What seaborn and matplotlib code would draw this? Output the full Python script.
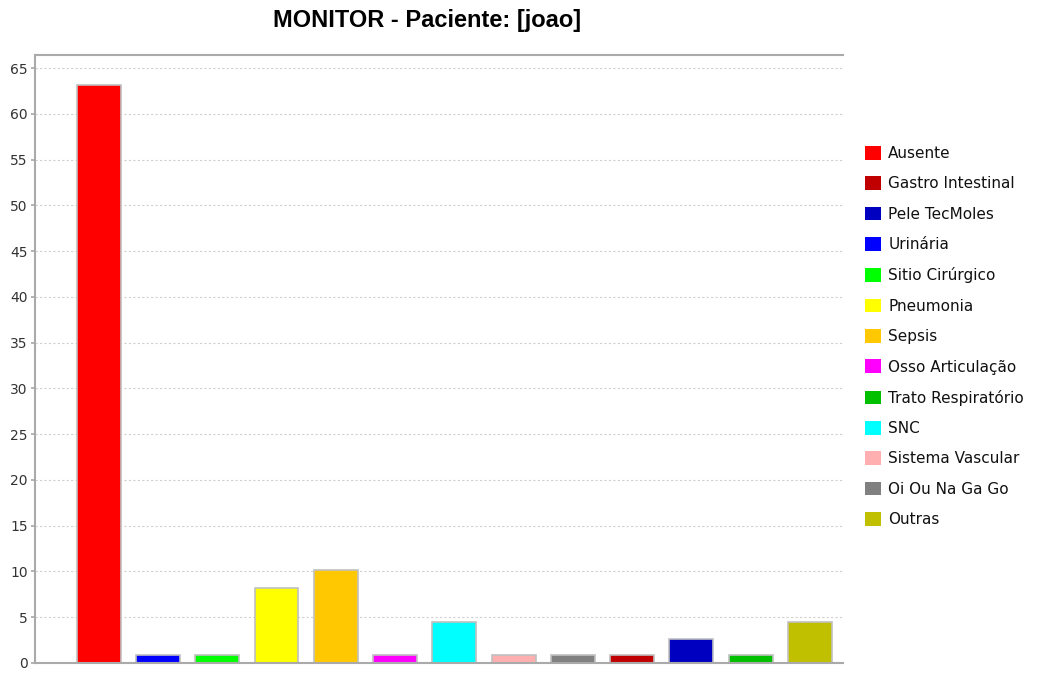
import pandas as pd
import matplotlib.pyplot as plt
from matplotlib.patches import Patch
import seaborn as sns

# bars, left to right
bar_order = ["Ausente", "Urinária", "Sitio Cirúrgico", "Pneumonia", "Sepsis",
             "Osso Articulação", "SNC", "Sistema Vascular", "Oi Ou Na Ga Go",
             "Gastro Intestinal", "Pele TecMoles", "Trato Respiratório", "Outras"]
valores = [63.2, 0.9, 0.9, 8.2, 10.1, 0.9, 4.5, 0.9, 0.9, 0.9, 2.6, 0.9, 4.5]

# legend order
legend_order = ["Ausente", "Gastro Intestinal", "Pele TecMoles", "Urinária",
                "Sitio Cirúrgico", "Pneumonia", "Sepsis", "Osso Articulação",
                "Trato Respiratório", "SNC", "Sistema Vascular", "Oi Ou Na Ga Go",
                "Outras"]
cores = ["#FF0000", "#C00000", "#0000C0", "#0000FF", "#00FF00", "#FFFF00",
         "#FFC800", "#FF00FF", "#00C000", "#00FFFF", "#FFAFAF", "#808080",
         "#C0C000"]

df = pd.DataFrame({"infeccao": bar_order, "valor": valores})
palette = dict(zip(legend_order, cores))

sns.set_theme(style="white")
plt.rcParams['font.family'] = ['DejaVu Sans']

fig = plt.figure(figsize=(10.5, 6.75), dpi=100)
ax = fig.add_axes([0.033, 0.018, 0.77, 0.9])

sns.barplot(data=df, x="infeccao", y="valor", hue="infeccao",
            order=bar_order, hue_order=legend_order, palette=palette,
            dodge=False, width=0.74, edgecolor="#c0c0c0", linewidth=1.2,
            saturation=1, legend=False, ax=ax)

ax.set_xlim(-1.08, 12.56)
ax.set_ylim(0, 66.4)
ax.set_yticks(range(0, 66, 5))
ax.set_xticks([])
ax.set_xlabel("")
ax.set_ylabel("")
ax.yaxis.grid(True, linestyle=(0, (2, 2)), color="#d0d0d0", linewidth=0.8)
ax.set_axisbelow(True)
for s in ["left", "bottom", "top"]:
    ax.spines[s].set_color("#aaaaaa")
    ax.spines[s].set_linewidth(1.5)
ax.spines["right"].set_visible(False)
ax.tick_params(axis="y", left=True, length=3, color="#aaaaaa",
               labelsize=10, labelcolor="#333333", pad=2)

# legend in its own order
handles = [Patch(facecolor=palette[n], edgecolor="none", label=n) for n in legend_order]
ax.legend(handles=handles, loc="center left", bbox_to_anchor=(1.02, 0.537),
          frameon=False, fontsize=11, handlelength=1.0, handleheight=1.0,
          handletextpad=0.5, labelspacing=1.0, borderaxespad=0,
          labelcolor="#111111")

fig.text(0.407, 0.97, "MONITOR - Paciente: [joao]", ha="center", va="center",
         fontsize=17, fontweight="bold", color="black",
         family=["Liberation Sans", "DejaVu Sans"])

plt.savefig("out.png", dpi=100)
